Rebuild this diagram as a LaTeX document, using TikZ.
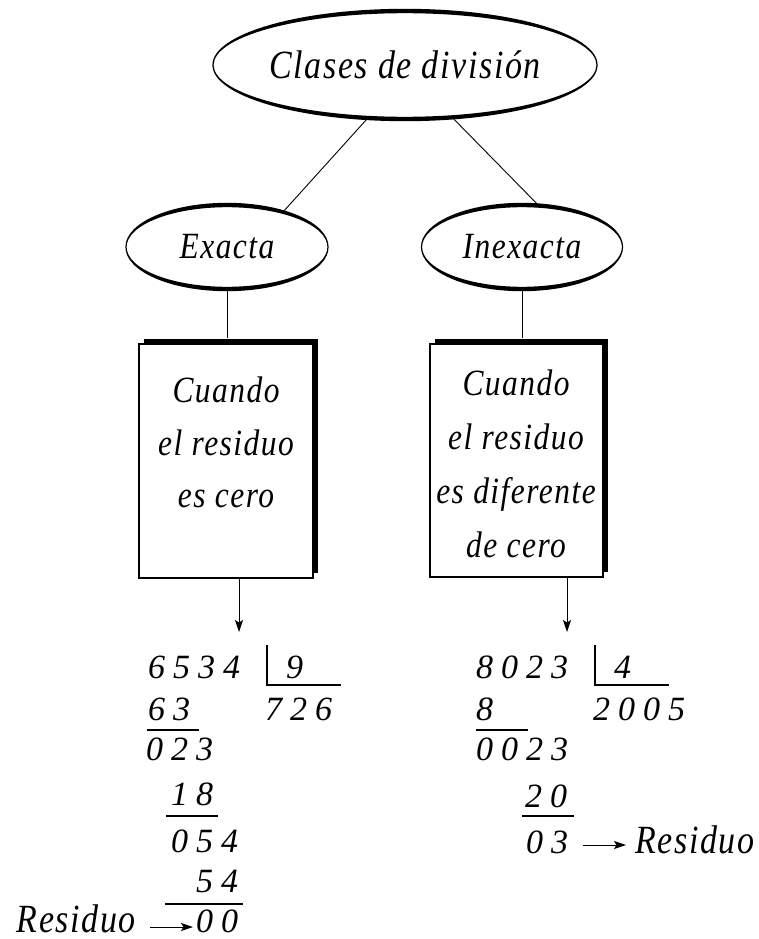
\documentclass[tikz,border=0pt]{standalone}
\usepackage{fontspec}
\setmainfont{Liberation Serif}
\newfontfamily\txtfont[FakeStretch=0.85,LetterSpace=4]{Liberation Serif}
\newfontfamily\numfont{Liberation Serif}
\usetikzlibrary{calc,arrows.meta,shapes.geometric,shadows}
\newcommand\ovalring[3]{%
  \fill[even odd rule] (#1) ellipse [x radius=#2pt+0.6pt, y radius=#3pt+2.2pt]
                       (#1) ellipse [x radius=#2pt-0.6pt, y radius=#3pt-2.2pt];}
\newcommand\gp{\hspace{8pt}}
\begin{document}
\begin{tikzpicture}[x=1pt,y=-1pt,
  lbl/.style={font=\txtfont\itshape\fontsize{37}{42}\selectfont, inner sep=0pt, anchor=base},
  big/.style={font=\txtfont\itshape\fontsize{40}{46}\selectfont, inner sep=0pt},
  num/.style={font=\numfont\itshape\fontsize{34}{40}\selectfont, inner sep=0pt, anchor=base west},
  oval/.style={ellipse, inner sep=0pt, outer sep=0pt},
  card/.style={draw, fill=white, line width=1.2pt, inner sep=0pt,
    general shadow={fill=black, shadow xshift=5pt, shadow yshift=5pt}},
  ln/.style={line width=0.9pt},
  rule/.style={line width=1.1pt},
  arr/.style={line width=0.9pt, -{Stealth[length=12pt,width=8pt,inset=2.5pt]}},
]
\useasboundingbox (0,0) rectangle (758,939);

% ovals
\node[oval, big, minimum width=384pt, minimum height=108pt] (title) at (405,65) {Clases de divisi\'on};
\ovalring{405,65}{192}{54}
\node[oval, font=\txtfont\itshape\fontsize{37}{42}\selectfont, minimum width=202pt, minimum height=84pt] (exacta) at (227,247) {Exacta};
\ovalring{227,247}{101}{42}
\node[oval, font=\txtfont\itshape\fontsize{37}{42}\selectfont, minimum width=201pt, minimum height=84pt] (inexacta) at (522,247) {Inexacta};
\ovalring{522,247}{100.5}{42}

\draw[ln] (title.235.8) -- (exacta.32);
\draw[ln] (title.312.5) -- (inexacta.68);

% boxes
\node[card, minimum width=174pt, minimum height=234pt] (box1) at (226,461) {};
\node[card, minimum width=173pt, minimum height=233pt] (box2) at (516.5,460.5) {};
\draw[ln] (exacta.south) -- ($(exacta.south |- box1.north)+(0,-5)$);
\draw[ln] (inexacta.south) -- ($(inexacta.south |- box2.north)+(0,-5)$);

\node[lbl] (b1a) at (226,402) {Cuando};
\node[lbl] (b1b) at (226,455) {el residuo};
\node[lbl] (b1c) at (226,507) {es cero};
\node[lbl] (b2a) at (516,395) {Cuando};
\node[lbl] (b2b) at (516,449) {el residuo};
\node[lbl] (b2c) at (516,503) {es diferente};
\node[lbl] (b2d) at (516,557) {de cero};

\coordinate (d1) at (239,632);
\coordinate (d2) at (567,632);
\draw[arr] (box1.south -| d1) -- (d1);
\draw[arr] (box2.south -| d2) -- (d2);

% left division
\node[num] (n1) at (148,678) {6\gp5\gp3\gp4};
\node[num] (n2) at (148,720) {6\gp3};
\node[num] (n3) at (146,760) {0\gp2\gp3};
\node[num] (n4) at (171,805) {1\gp8};
\node[num] (n5) at (171,852) {0\gp5\gp4};
\node[num] (n6) at (196,892) {5\gp4};
\node[num] (n7) at (196,932) {0\gp0};
\node[num] (q1) at (286,678) {9};
\node[num] (q2) at (265,720) {7\gp2\gp6};
\draw[rule] (147,730) -- (199,730);
\draw[rule] (166,816) -- (218,816);
\draw[rule] (165,904) -- (243,904);
\draw[rule] (267,645) -- (267,685) -- (341,685);
\node[big, anchor=base east] (r1) at (136,932) {Residuo};
\draw[arr] ($(n7.base west)+(-46,-5)$) -- ($(n7.base west)+(-3,-5)$);

% right division
\node[num] (m1) at (476,678) {8\gp0\gp2\gp3};
\node[num] (m2) at (476,720) {8};
\node[num] (m3) at (476,760) {0\gp0\gp2\gp3};
\node[num] (m4) at (525,807) {2\gp0};
\node[num] (m5) at (526,853) {0\gp3};
\node[num] (p1) at (614,678) {4};
\node[num] (p2) at (593,720) {2\gp0\gp0\gp5};
\draw[rule] (476,730) -- (528,730);
\draw[rule] (522,816) -- (574,816);
\draw[rule] (595,645) -- (595,685) -- (669,685);
\node[big, anchor=base west] (r2) at (635,853) {Residuo};
\draw[arr] ($(m5.base east)+(15,-8)$) -- ($(r2.base west)+(-9,-8)$);
\end{tikzpicture}
\end{document}
